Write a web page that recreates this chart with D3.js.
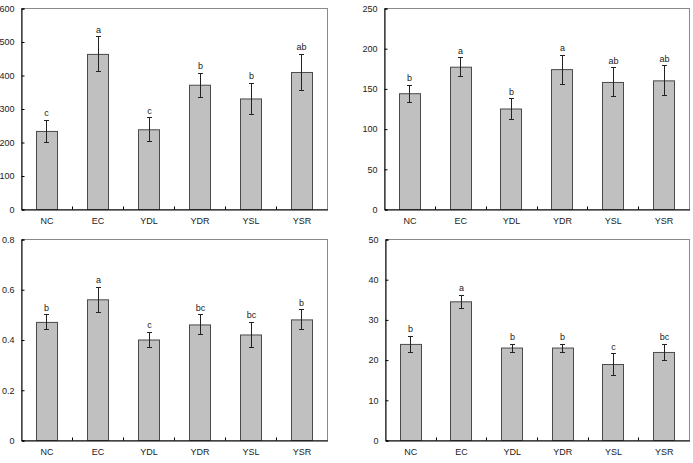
<!DOCTYPE html>
<html>
<head>
<meta charset="utf-8">
<script src="https://cdn.jsdelivr.net/npm/d3@7"></script>
<style>
  body { margin: 0; background: #fff; }
  svg { display: block; font-family: Arial, "Liberation Sans", sans-serif; }
</style>
</head>
<body>
<div id="chart"></div>
<script>
// groups on the x axis (same for every panel)
var groups = ["NC", "EC", "YDL", "YDR", "YSL", "YSR"];

// panel A (top left)
var meanA = [233, 463, 238, 371, 330, 409];
var errA = [34, 52, 36, 36, 47, 55];
var letterA = ["c", "a", "c", "b", "b", "ab"];
var ticksA = [0, 100, 200, 300, 400, 500, 600];

// panel B (top right)
var meanB = [144, 177, 125, 174, 158, 160];
var errB = [10.5, 11.5, 13, 18, 18, 18.5];
var letterB = ["b", "a", "b", "a", "ab", "ab"];
var ticksB = [0, 50, 100, 150, 200, 250];

// panel C (bottom left)
var meanC = [0.47, 0.56, 0.40, 0.46, 0.42, 0.48];
var errC = [0.03, 0.05, 0.03, 0.04, 0.05, 0.04];
var letterC = ["b", "a", "c", "bc", "bc", "b"];
var ticksC = [0, 0.2, 0.4, 0.6, 0.8];

// panel D (bottom right)
var meanD = [23.9, 34.5, 23.0, 23.0, 18.9, 21.9];
var errD = [2.0, 1.6, 1.0, 1.0, 2.7, 2.1];
var letterD = ["b", "a", "b", "b", "c", "bc"];
var ticksD = [0, 10, 20, 30, 40, 50];

var W = 693, H = 463;

var svg = d3.select("#chart")
    .append("svg")
    .attr("width", W)
    .attr("height", H);

// position of each plot area (left, top, right, bottom)
var panels = [
    { box: [21, 8, 327, 209], mean: meanA, err: errA, letters: letterA, ticks: ticksA },
    { box: [384, 8, 689, 209], mean: meanB, err: errB, letters: letterB, ticks: ticksB },
    { box: [21, 239, 327, 440], mean: meanC, err: errC, letters: letterC, ticks: ticksC },
    { box: [385, 239, 689, 440], mean: meanD, err: errD, letters: letterD, ticks: ticksD }
];

panels.forEach(function(p) {
    var left = p.box[0], top = p.box[1];
    var width = p.box[2] - p.box[0], height = p.box[3] - p.box[1];

    var g = svg.append("g")
        .attr("transform", "translate(" + (left + 0.5) + "," + (top + 0.5) + ")");

    var x = d3.scaleBand()
        .domain(groups)
        .range([0, width])
        .paddingInner(0.58)
        .paddingOuter(0.29);

    var y = d3.scaleLinear()
        .domain([0, p.ticks[p.ticks.length - 1]])
        .range([height, 0]);

    // grey frame (top / right)
    g.append("rect")
        .attr("x", 0)
        .attr("y", 0)
        .attr("width", width)
        .attr("height", height)
        .attr("fill", "none")
        .attr("stroke", "#8a8a8a")
        .attr("stroke-width", 1);

    // bars
    g.selectAll("rect.bar")
        .data(groups)
        .enter()
        .append("rect")
        .attr("class", "bar")
        .attr("x", function(d) { return Math.round(x(d)); })
        .attr("y", function(d, i) { return y(p.mean[i]); })
        .attr("width", Math.round(x.bandwidth()))
        .attr("height", function(d, i) { return height - y(p.mean[i]); })
        .attr("fill", "#c0c0c0")
        .attr("stroke", "#4a4a4a")
        .attr("stroke-width", 1);

    // error bars
    var cx = function(d) { return Math.round(x(d) + x.bandwidth() / 2); };
    var eb = g.selectAll("g.err")
        .data(groups)
        .enter()
        .append("g")
        .attr("class", "err")
        .attr("stroke", "#222")
        .attr("stroke-width", 1);

    eb.append("line")
        .attr("x1", cx).attr("x2", cx)
        .attr("y1", function(d, i) { return y(p.mean[i] + p.err[i]); })
        .attr("y2", function(d, i) { return y(p.mean[i] - p.err[i]); });
    eb.append("line")
        .attr("x1", function(d) { return cx(d) - 2.5; })
        .attr("x2", function(d) { return cx(d) + 2.5; })
        .attr("y1", function(d, i) { return Math.round(y(p.mean[i] + p.err[i])); })
        .attr("y2", function(d, i) { return Math.round(y(p.mean[i] + p.err[i])); });
    eb.append("line")
        .attr("x1", function(d) { return cx(d) - 2.5; })
        .attr("x2", function(d) { return cx(d) + 2.5; })
        .attr("y1", function(d, i) { return Math.round(y(p.mean[i] - p.err[i])); })
        .attr("y2", function(d, i) { return Math.round(y(p.mean[i] - p.err[i])); });

    // significance letters
    g.selectAll("text.letter")
        .data(groups)
        .enter()
        .append("text")
        .attr("class", "letter")
        .attr("x", cx)
        .attr("y", function(d, i) { return y(p.mean[i] + p.err[i]) - 4; })
        .attr("text-anchor", "middle")
        .style("font-size", "9px")
        .style("fill", "#222")
        .text(function(d, i) { return p.letters[i]; });

    // Y axis, ticks inside
    var yAxis = g.append("g")
        .call(d3.axisLeft(y)
            .tickValues(p.ticks)
            .tickSize(-3)
            .tickPadding(7)
            .tickFormat(function(d) { return String(d); }));
    yAxis.select(".domain").attr("stroke", "#000");
    yAxis.selectAll("text").style("font-size", "9px").style("fill", "#222");

    // X axis, labels only
    var xAxis = g.append("g")
        .attr("transform", "translate(0," + height + ")")
        .call(d3.axisBottom(x).tickSize(0).tickPadding(8));
    xAxis.select(".domain").attr("stroke", "#000");
    xAxis.selectAll("text").style("font-size", "9px").style("fill", "#222");

    // small ticks between groups, pointing up
    var step = x.step();
    g.selectAll("line.sep")
        .data(groups.slice(1))
        .enter()
        .append("line")
        .attr("class", "sep")
        .attr("x1", function(d) { return Math.round(x(d) - x.paddingInner() * step / 2); })
        .attr("x2", function(d) { return Math.round(x(d) - x.paddingInner() * step / 2); })
        .attr("y1", height)
        .attr("y2", height - 3)
        .attr("stroke", "#000");
});
</script>
</body>
</html>
